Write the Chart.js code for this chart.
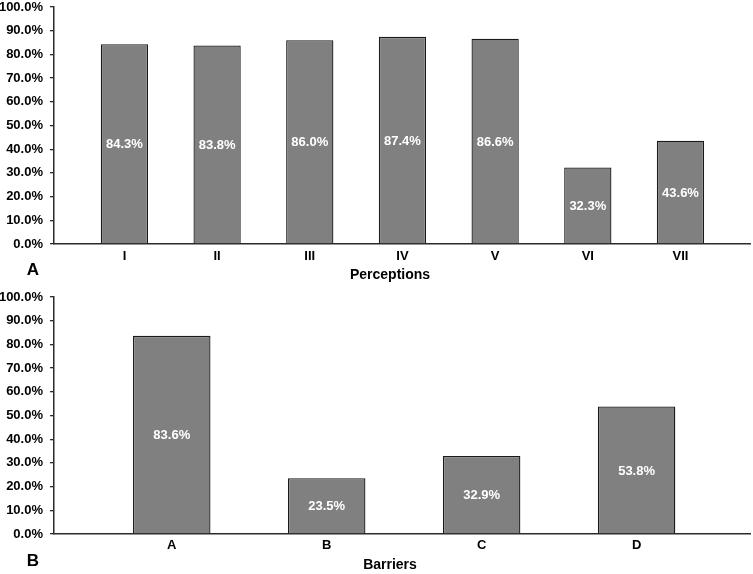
<!DOCTYPE html>
<html>
<head>
<meta charset="utf-8">
<script src="https://cdn.jsdelivr.net/npm/chart.js@4.4.0/dist/chart.umd.min.js"></script>
<style>
  html, body { margin: 0; padding: 0; background: #fff; }
  canvas { display: block; }
</style>
</head>
<body>
<canvas id="chartA" width="753" height="287"></canvas>
<canvas id="chartB" width="753" height="287"></canvas>
<script>
const perceptionCategories = ['I', 'II', 'III', 'IV', 'V', 'VI', 'VII'];
const perceptionValues = [84.3, 83.8, 86.0, 87.4, 86.6, 32.3, 43.6];
const barrierCategories = ['A', 'B', 'C', 'D'];
const barrierValues = [83.6, 23.5, 32.9, 53.8];
const yTickValues = [0, 10, 20, 30, 40, 50, 60, 70, 80, 90, 100];

const FONT = "'Liberation Sans', Arial, Helvetica, sans-serif";
const AXIS_COLOR = '#2b2b2b';

function makeChart(canvasId, categories, values, opts) {
  const valueLabels = {
    id: 'valueLabels',
    afterDatasetsDraw(chart) {
      const ctx = chart.ctx;
      const meta = chart.getDatasetMeta(0);
      ctx.save();
      ctx.fillStyle = '#ffffff';
      ctx.font = 'bold 13px ' + FONT;
      ctx.textAlign = 'center';
      ctx.textBaseline = 'middle';
      meta.data.forEach((bar, i) => {
        const p = bar.getProps(['x', 'y', 'base'], true);
        ctx.fillText(values[i].toFixed(1) + '%', p.x, (p.y + p.base) / 2 + 1);
      });
      ctx.restore();
    }
  };
  const titles = {
    id: 'titles',
    afterDraw(chart) {
      const ctx = chart.ctx;
      const area = chart.chartArea;
      ctx.save();
      ctx.fillStyle = '#000';
      ctx.textBaseline = 'middle';
      ctx.textAlign = 'center';
      ctx.font = 'bold 14px ' + FONT;
      ctx.fillText(opts.axisTitle, (area.left + area.right) / 2 - 12, area.bottom + opts.titleGap);
      ctx.font = 'bold 17px ' + FONT;
      ctx.fillText(opts.panel, 33, area.bottom + opts.panelGap);
      ctx.restore();
    }
  };
  return new Chart(document.getElementById(canvasId), {
    type: 'bar',
    data: {
      datasets: [{
        data: categories.map((c, i) => ({ x: i, y: values[i] })),
        backgroundColor: '#808080',
        borderColor: '#1a1a1a',
        borderWidth: 1.3,
        borderSkipped: 'start',
        barPercentage: opts.barPct,
        categoryPercentage: 1
      }]
    },
    options: {
      responsive: false,
      devicePixelRatio: 1,
      animation: false,
      layout: { padding: { top: opts.top, right: 3, bottom: 0, left: 0 } },
      plugins: { legend: { display: false }, tooltip: { enabled: false } },
      scales: {
        x: {
          type: 'linear',
          offset: false,
          min: -0.76,
          max: categories.length - 1 + opts.rightPad,
          grid: { display: false, drawTicks: false, offset: false },
          border: { display: true, color: AXIS_COLOR, width: 1.5 },
          afterBuildTicks(scale) {
            scale.ticks = categories.map((c, i) => ({ value: i }));
          },
          afterFit(scale) {
            scale.height = opts.xHeight;
            scale.paddingLeft = 0;
            scale.paddingRight = 0;
          },
          ticks: {
            autoSkip: false,
            maxRotation: 0,
            padding: opts.xPad,
            color: '#000',
            font: { family: FONT, size: 13, weight: 'bold' },
            callback: (v) => categories[v]
          }
        },
        y: {
          min: 0,
          max: 100,
          afterBuildTicks(scale) {
            scale.ticks = yTickValues.map(v => ({ value: v }));
          },
          afterFit(scale) {
            scale.width = 54;
            scale.paddingTop = 0;
            scale.paddingBottom = 0;
          },
          grid: {
            display: true,
            drawOnChartArea: false,
            drawTicks: true,
            tickLength: 4,
            color: AXIS_COLOR,
            lineWidth: 1.3
          },
          border: { display: true, color: AXIS_COLOR, width: 1.5 },
          ticks: {
            padding: 7,
            color: '#000',
            font: { family: FONT, size: 13, weight: 'bold' },
            callback: (v) => v.toFixed(1) + '%'
          }
        }
      }
    },
    plugins: [valueLabels, titles]
  });
}

makeChart('chartA', perceptionCategories, perceptionValues, {
  top: 7, xHeight: 43, xPad: 5, barPct: 0.51, rightPad: 0.75,
  axisTitle: 'Perceptions', panel: 'A', titleGap: 31, panelGap: 26
});
makeChart('chartB', barrierCategories, barrierValues, {
  top: 10, xHeight: 40, xPad: 4, barPct: 0.5, rightPad: 0.732,
  axisTitle: 'Barriers', panel: 'B', titleGap: 31, panelGap: 27
});
</script>
</body>
</html>
